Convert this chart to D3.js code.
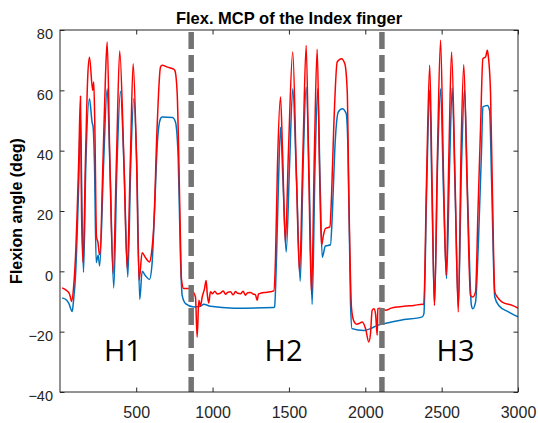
<!DOCTYPE html>
<html>
<head>
<meta charset="utf-8">
<script src="https://cdn.jsdelivr.net/npm/d3@7"></script>
<style>
  html, body { margin: 0; padding: 0; background: #ffffff; }
  svg { display: block; }
</style>
</head>
<body>
<svg id="chart" width="538" height="423"></svg>
<script>
// ---- data ----
const title = "Flex. MCP of the Index finger";
const yLabel = "Flexion angle (deg)";
const xTicks = [500, 1000, 1500, 2000, 2500, 3000];
const yTicks = [-40, -20, 0, 20, 40, 60, 80];
const phaseLabels = ["H1", "H2", "H3"];
const phaseLabelX = [413, 1465, 2591];
const phaseLabelY = -29.7;
const separators = [860, 2109];

const redX = [15, 43, 58, 69, 76, 91, 102, 124, 135, 142, 152, 168, 183, 194, 215, 222, 229, 240, 250, 258, 262,
  283, 299, 310, 327, 349, 371, 392, 419, 441, 462, 480, 502, 519, 539, 561, 587, 600, 615, 637, 659, 670, 705, 746,
  753, 768, 779, 790, 796, 811, 855, 875, 888, 899, 910, 921, 932, 947, 958, 965, 975, 986, 1000, 1015, 1030, 1052,
  1070, 1085, 1100, 1117, 1135, 1150, 1165, 1183, 1200, 1215, 1230, 1248, 1265, 1281, 1292, 1301, 1320, 1347, 1375,
  1401, 1412, 1425, 1445, 1458, 1477, 1497, 1525, 1550, 1569, 1592, 1613, 1631, 1648, 1667, 1685, 1700, 1713, 1726,
  1739, 1768, 1779, 1794, 1816, 1844, 1866, 1882, 1892, 1910, 1925, 1943, 1958, 1980, 2002, 2023, 2034, 2045, 2056,
  2067, 2078, 2082, 2093, 2133, 2170, 2209, 2263, 2318, 2373, 2383, 2401, 2422, 2437, 2453, 2473, 2493, 2513, 2530,
  2548, 2565, 2588, 2609, 2627, 2645, 2666, 2689, 2704, 2722, 2738, 2755, 2770, 2788, 2799, 2805, 2820, 2833, 2848,
  2864, 2897, 2962, 3000];
const redY = [-5.5, -6.3, -7, -8.5, -10, -4.6, 4.3, 37.5, 58, 20, 2.9, 37.5, 65, 71, 60, 62.8, 48.4, 11.4, 9.5, 6, 5.5,
  37.5, 65, 76, 37.5, -0.7, 37.5, 73, 37.5, 0.9, 37.5, 68.8, 37.5, -3, 6.2, 4.5, 3.1, 6, 15, 48, 67.7, 68.3, 67.7, 67,
  66.6, 59.4, 37.5, 9.7, -2.4, -5.7, -5.7, -7, -8.5, -21.8, -9.6, -11.5, -8.5, -5.8, -3, -7.4, -10.5, -6.8, -7.4, -6.6,
  -7.5, -7.2, -6.5, -7.6, -6.9, -6.8, -7.8, -6.7, -7.3, -7.4, -6.6, -7.9, -7.1, -7, -7.5, -7.8, -9.6, -7.5, -7.2, -7,
  -6.8, -6.5, 4.2, 35, 57.8, 40, 9.7, 40, 72.7, 30, -0.2, 40, 74.9, 30, -7.7, 40, 73.6, 35, 8.6, 12, 14.2, 14.7, 25,
  48.4, 69.4, 70.5, 68.8, 59.4, 26.3, -12.3, -16.5, -17.5, -17.3, -16.8, -19, -23.4, -20.7, -12.9, -12.4, -14, -21.2,
  -12.4, -12.2, -12.9, -12.2, -11.8, -11.5, -11.3, -10.9, -11, 30, 68.3, 30, -11.3, 40, 76.6, 30, -1.3, 40, 72.7, 30,
  -13.5, 40, 68.5, 30, -8, -8.5, -6.8, 20, 48, 70.5, 71.1, 73.3, 71.6, 59.4, 25, -6.8, -8.5, -10.2, -11.3, -12.2];

const blueX = [15, 43, 58, 81, 89, 102, 124, 135, 145, 155, 170, 194, 211, 218, 227, 238, 251, 261, 286, 310, 328, 353,
  374, 397, 420, 445, 464, 484, 504, 523, 539, 561, 587, 603, 620, 639, 659, 670, 738, 757, 775, 790, 801, 823, 877,
  921, 942, 986, 1139, 1401, 1406, 1419, 1432, 1445, 1461, 1482, 1504, 1525, 1550, 1574, 1593, 1613, 1633, 1652, 1671,
  1689, 1704, 1718, 1739, 1772, 1785, 1800, 1823, 1849, 1875, 1887, 1903, 1913, 1990, 2034, 2078, 2144, 2231, 2373,
  2384, 2401, 2422, 2437, 2453, 2473, 2493, 2513, 2532, 2552, 2569, 2589, 2609, 2630, 2650, 2670, 2695, 2704, 2722,
  2741, 2761, 2770, 2799, 2814, 2827, 2848, 2874, 2940, 3000];
const blueY = [-8.8, -9.5, -10.5, -13.3, -10, -2, 30, 52, 20, -0.3, 35, 57.2, 49.5, 47.8, 35, 2.9, 5.3, 1.8, 35, 60.5,
  35, -5.5, 35, 59.7, 35, -1.9, 35, 57.2, 35, -9.3, 0, -1.5, -2.7, 2, 20, 43, 50.6, 51.2, 51, 49.5, 37.5, 4.3, -8,
  -10.7, -11.8, -11.6, -10.9, -11.6, -12.2, -12, -11.8, 5, 30, 47.8, 30, 6.4, 35, 60.5, 30, -3.3, 35, 61.1, 30, -11,
  35, 60.5, 30, 4.7, 8.4, 8.8, 20, 40, 52.8, 53.9, 52.3, 40, -10, -19, -19.6, -19, -17.9, -17.1, -16.2, -15.1, -14,
  25, 60, 25, -11.3, 35, 60.5, 25, -2.4, 35, 60.8, 25, -11.8, 35, 60.3, 25, -11.3, -12.4, -10.2, 10, 40, 54.5, 55,
  53.4, 30, -8.5, -11.3, -13.5, -15.1];

// ---- layout ----
const svg = d3.select("#chart");
const mLeft = 60, mRight = 518, mTop = 30, mBottom = 392;
const axisColor = "#262626";

const x = d3.scaleLinear().domain([1, 3000]).range([mLeft, mRight]);
const y = d3.scaleLinear().domain([-40, 80]).range([mBottom, mTop]);

svg.append("clipPath").attr("id", "plotclip")
  .append("rect").attr("x", mLeft).attr("y", mTop).attr("width", mRight - mLeft).attr("height", mBottom - mTop);

const line = d3.line().x(d => x(d[0])).y(d => y(d[1])).curve(d3.curveMonotoneX);
const blue = blueX.map((v, i) => [v, blueY[i]]);
const red = redX.map((v, i) => [v, redY[i]]);

const plot = svg.append("g").attr("clip-path", "url(#plotclip)");
plot.append("path").datum(blue).attr("d", line)
  .attr("fill", "none").attr("stroke", "#0072BD").attr("stroke-width", 1.5).attr("stroke-linejoin", "round");
plot.append("path").datum(red).attr("d", line)
  .attr("fill", "none").attr("stroke", "#FF0000").attr("stroke-width", 1.5).attr("stroke-linejoin", "round");

// separators
plot.selectAll("line.sep").data(separators).enter().append("line")
  .attr("class", "sep")
  .attr("x1", d => x(d)).attr("x2", d => x(d))
  .attr("y1", mTop + 2).attr("y2", mBottom)
  .attr("stroke", "#737373").attr("stroke-width", 5.5)
  .attr("stroke-dasharray", "17,6");

// phase labels
svg.selectAll("text.phase").data(phaseLabels).enter().append("text")
  .attr("class", "phase")
  .attr("x", (d, i) => x(phaseLabelX[i])).attr("y", y(phaseLabelY))
  .attr("text-anchor", "middle")
  .attr("font-family", "'Open Sans', 'Liberation Sans', sans-serif")
  .attr("font-size", 29).attr("fill", "#000")
  .text(d => d);

// axes (MATLAB-style box with inward ticks)
const fmt = d3.format("d");
const xAxisB = d3.axisBottom(x).tickValues(xTicks).tickFormat(fmt).tickSizeInner(-4.5).tickSizeOuter(0).tickPadding(15);
const xAxisT = d3.axisTop(x).tickValues(xTicks).tickSizeInner(-4.5).tickSizeOuter(0).tickFormat("");
const yAxisL = d3.axisLeft(y).tickValues(yTicks).tickFormat(fmt).tickSizeInner(-4.5).tickSizeOuter(0).tickPadding(7);
const yAxisR = d3.axisRight(y).tickValues(yTicks).tickSizeInner(-4.5).tickSizeOuter(0).tickFormat("");

function style(g, size) {
  g.select(".domain").remove();
  g.selectAll(".tick line").attr("stroke", axisColor);
  g.selectAll(".tick text").attr("fill", axisColor)
    .attr("font-family", "'Liberation Sans', Arial, sans-serif").attr("font-size", size);
}
svg.append("g").attr("transform", `translate(0,${mBottom})`).call(xAxisB).call(style, 16);
svg.append("g").attr("transform", `translate(0,${mTop})`).call(xAxisT).call(style, 16);
svg.append("g").attr("transform", `translate(${mLeft},0)`).call(yAxisL).call(style, 14.5)
  .selectAll(".tick text").attr("dy", "0.6em");
svg.append("g").attr("transform", `translate(${mRight},0)`).call(yAxisR).call(style, 14);

svg.append("rect").attr("x", mLeft).attr("y", mTop).attr("width", mRight - mLeft).attr("height", mBottom - mTop)
  .attr("fill", "none").attr("stroke", axisColor).attr("stroke-width", 1);

// title
svg.append("text").attr("x", (mLeft + mRight) / 2).attr("y", 24)
  .attr("text-anchor", "middle")
  .attr("font-family", "'Liberation Sans', Arial, sans-serif")
  .attr("font-weight", "bold").attr("font-size", 16.5).attr("fill", "#000")
  .text(title);

// y label
svg.append("text")
  .attr("transform", `translate(22,${(mTop + mBottom) / 2}) rotate(-90)`)
  .attr("text-anchor", "middle")
  .attr("font-family", "'Liberation Sans', Arial, sans-serif")
  .attr("font-weight", "bold").attr("font-size", 16).attr("fill", "#000")
  .text(yLabel);
</script>
</body>
</html>
